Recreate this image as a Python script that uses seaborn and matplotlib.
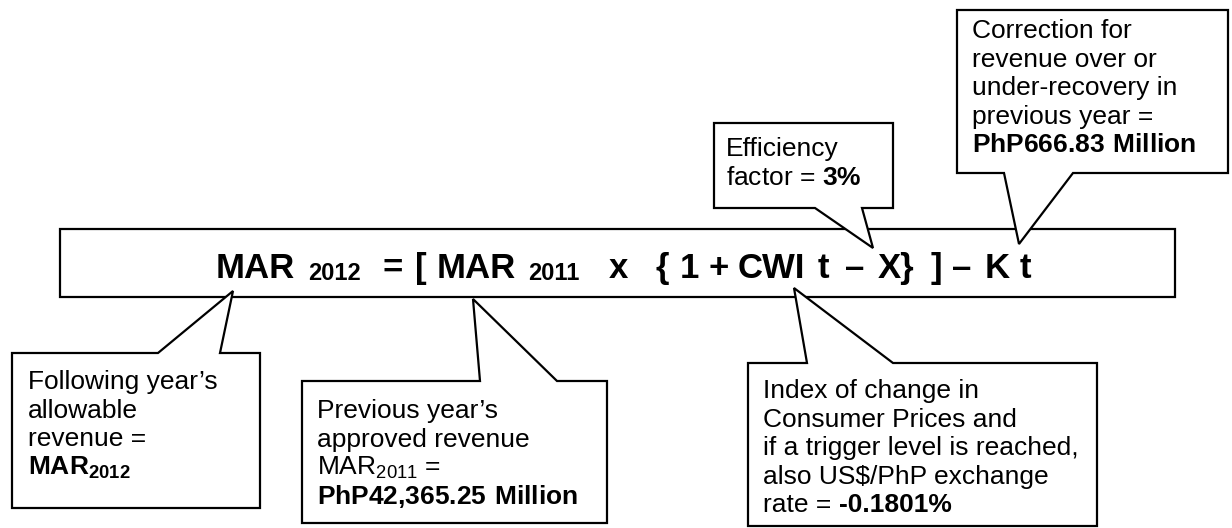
import matplotlib
matplotlib.use('Agg')
import matplotlib.pyplot as plt
from matplotlib.patches import Polygon, Rectangle
import seaborn as sns

# --- Formula pieces (big bold text, subscripts flagged) ---
formula_tokens = ['MAR', '2012', '=', '[', 'MAR', '2011', 'x', '{', '1', '+',
                  'CWI', 't', '–', 'X}', ']', '–', 'K', 't']
formula_is_sub = [False, True, False, False, False, True, False, False, False, False,
                  False, False, False, False, False, False, False, False]
formula_x = [216, 308, 382, 415, 437, 528, 609, 656, 680, 708,
             738, 818, 845, 878, 931, 952, 985, 1020]

# --- Callout texts ---
following_lines = ["Following year’s", "allowable", "revenue =", r"$\mathbf{MAR_{2012}}$"]
previous_lines = ["Previous year’s", "approved revenue", r"MAR$_{2011}$ =",
                  r"$\mathbf{PhP42{,}365.25\ Million}$"]
index_lines = ["Index of change in", "Consumer Prices and", "if a trigger level is reached,",
               "also US$/PhP exchange", ("rate = ", "-0.1801%")]
efficiency_lines = ["Efficiency", r"factor = $\mathbf{3\%}$"]
correction_lines = ["Correction for", "revenue over or", "under-recovery in",
                    "previous year =", r"$\mathbf{PhP666.83\ Million}$"]

# callout layout: box (left, top, right, bottom), pointer base xs, pointer tip, pointer edge
callouts = [
    (following_lines, (12, 353, 260, 508), (158, 220), (233, 291), 'top', 28, 389),
    (previous_lines, (302, 381, 607, 523), (480, 557), (473, 299), 'top', 317, 418),
    (index_lines, (748, 363, 1097, 526), (807, 893), (794, 288), 'top', 763, 398),
    (efficiency_lines, (714, 123, 893, 208), (815, 862), (873, 248), 'bottom', 726, 156),
    (correction_lines, (957, 10, 1228, 173), (1004, 1073), (1019, 244), 'bottom', 972, 38),
]
LINE_STEP = 28.6

sns.set_style('white')
plt.rcParams['font.family'] = ['Liberation Sans', 'DejaVu Sans']
plt.rcParams['text.color'] = 'black'
plt.rcParams['mathtext.fontset'] = 'custom'
plt.rcParams['mathtext.rm'] = 'Liberation Sans'
plt.rcParams['mathtext.bf'] = 'Liberation Sans:bold'
plt.rcParams['mathtext.default'] = 'regular'

fig = plt.figure(figsize=(12.32, 5.28), dpi=100)
ax = fig.add_axes([0, 0, 1, 1])
ax.set_xlim(0, 1232)
ax.set_ylim(528, 0)
ax.axis('off')
renderer = fig.canvas.get_renderer()

# main formula box
ax.add_patch(Rectangle((60, 229), 1115, 68, facecolor='white', edgecolor='black',
                       linewidth=1.6, zorder=1))
for tok, sub, x in zip(formula_tokens, formula_is_sub, formula_x):
    if sub:
        ax.text(x, 280, tok, fontsize=17, fontweight='bold', va='baseline', ha='left', zorder=2)
    else:
        ax.text(x, 278, tok, fontsize=25, fontweight='bold', va='baseline', ha='left', zorder=2)

# callout boxes
for lines, (l, t, r, b), (b1, b2), tip, edge, tx, ty in callouts:
    if edge == 'top':
        pts = [(l, t), (b1, t), tip, (b2, t), (r, t), (r, b), (l, b)]
    else:
        pts = [(l, t), (r, t), (r, b), (b2, b), tip, (b1, b), (l, b)]
    ax.add_patch(Polygon(pts, closed=True, facecolor='white', edgecolor='black',
                         linewidth=1.6, joinstyle='miter', zorder=3))
    for i, s in enumerate(lines):
        y = ty + i * LINE_STEP
        if isinstance(s, tuple):
            # regular part then bold part (plain hyphen, not a math minus)
            t0 = ax.text(tx, y, s[0].rstrip(), fontsize=19, va='baseline', ha='left', zorder=4)
            x1 = t0.get_window_extent(renderer).x1 + 19 * 100 / 72 * 0.278
            ax.text(x1, y, s[1], fontsize=19, fontweight='bold', va='baseline', ha='left', zorder=4)
        else:
            ax.text(tx, y, s, fontsize=19, va='baseline', ha='left', zorder=4)

fig.savefig('out.png', dpi=100, facecolor='white')
